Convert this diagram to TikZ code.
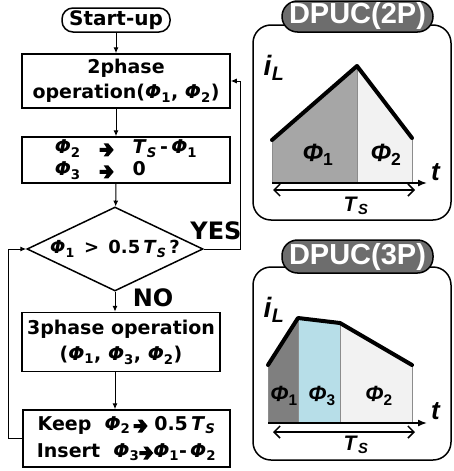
\documentclass[tikz,border=0pt]{standalone}
\usepackage{fontspec}
\setmainfont{DejaVu Sans}
\newfontfamily\libfont{Liberation Sans}
\usetikzlibrary{shapes.geometric,arrows.meta}
\definecolor{phaseone}{HTML}{A6A6A6}
\definecolor{phaseonedark}{HTML}{7F7F7F}
\definecolor{phasetwo}{HTML}{F2F2F2}
\definecolor{phasethree}{HTML}{B7DEE8}
\definecolor{pillgray}{HTML}{6D6D6D}
\newcommand{\ph}[1]{\textit{Φ}\textsubscript{#1}}
\newcommand{\TS}{\textit{T}\textsubscript{\textit{S}}}
\newcommand{\rarr}{\tikz[baseline=-4pt,x=1pt,y=1pt]\fill (0,-2) -- (7,-2) -- (4,-6.5) -- (8.5,-6.5) -- (14,0) -- (8.5,6.5) -- (4,6.5) -- (7,2) -- (0,2) -- cycle;}

\begin{document}
\begin{tikzpicture}[x=1pt,y=-1pt,
	box/.style={ draw, line width=1.5pt, inner sep=0pt, align=center, font=\bfseries\fontsize{19}{25}\selectfont },
	flow/.style={ -{Latex[length=6pt,width=5pt]}, line width=1pt },
	yesno/.style={ font=\bfseries\fontsize{24}{24}\selectfont },
	panel/.style={ draw, line width=1.5pt, rounded corners=18pt },
	pill/.style={ draw, line width=1.5pt, fill=pillgray, text=white, rounded corners=15.5pt, inner sep=0pt, font=\libfont\bfseries\fontsize{29}{29}\selectfont },
	wave/.style={ line width=4pt, line cap=round, line join=round },
	edge/.style={ black!45, line width=1pt },
	phase/.style={ font=\libfont\bfseries\fontsize{25}{25}\selectfont },
	lbl/.style={ font=\libfont\bfseries\fontsize{28}{28}\selectfont }
]
\useasboundingbox (0,0) rectangle (453,471);

% flowchart
\node[box, rounded corners=11pt, minimum width=108pt, minimum height=24pt, font=\bfseries\fontsize{20}{20}\selectfont] (start) at (116,20) {Start-up};
\node[box, minimum width=208pt, minimum height=54pt] (op2) at (126,81) {2phase\\operation(\ph{1}, \ph{2})};
\node[box, minimum width=208pt, minimum height=46pt, align=left, font=\bfseries\fontsize{19}{22}\selectfont] (set2) at (126,160) {\ph{2}\quad\rarr\quad\TS\,-\,\ph{1}\\\ph{3}\quad\rarr\quad 0};
\node[box, diamond, shape aspect=2.1, minimum width=176pt, minimum height=84pt, font=\bfseries\fontsize{18}{18}\selectfont] (chk) at (115,249) {\ph{1} \,>\, 0.5\,\TS\,?};
\node[box, minimum width=198pt, minimum height=59pt, font=\bfseries\fontsize{19}{26}\selectfont] (op3) at (121,342) {3phase operation\\(\ph{1}, \ph{3}, \ph{2})};
\node[box, minimum width=207pt, minimum height=57pt, font=\bfseries\fontsize{19}{27}\selectfont] (keep) at (126.5,438.5) {Keep\ \ \ph{2}\,\rarr\ 0.5\,\TS\\Insert\ \ \ph{3}\rarr\ph{1}-\,\ph{2}};
\node[yesno] (yes) at (216,231) {YES};
\node[yesno] (no) at (153,298) {NO};

\draw[flow] (start) -- (start |- op2.north);
\draw[flow] (start |- op2.south) -- (start |- set2.north);
\draw[flow] (start |- set2.south) -- (chk);
\draw[flow] (chk) -- (chk |- op3.north);
\draw[flow] (chk |- op3.south) -- (chk |- keep.north);
\draw[flow] (chk.east) -- ++(37,0) |- (op2.east);
\draw[flow] (keep.west) -- ++(-14,0) |- (chk.west);

% DPUC(2P)
\draw[panel] (253,25) rectangle (451,220);
\node[pill, minimum width=151pt, minimum height=31pt] (t2p) at (357.5,16.5) {DPUC(2P)};
\fill[phaseone] (272,183) -- (272,140) -- (357,66) -- (357,183) -- cycle;
\fill[phasetwo] (357,183) -- (357,66) -- (412,138) -- (412,183) -- cycle;
\draw[edge] (272,140) -- (272,183) (357,66) -- (357,183) (412,138) -- (412,183);
\draw[wave] (272,140) -- (357,66) -- (412,138);
\draw[-{Latex[length=9pt,width=7pt]}, line width=1.5pt] (272,183) -- (427,183);
\draw[{Straight Barb[length=6pt]}-{Straight Barb[length=6pt]}, line width=1.5pt] (273,190) -- (415,190);
\node[lbl] (il2) at (274,68) {\textit{i}\textsubscript{\textit{L}}};
\node[lbl, font=\libfont\bfseries\fontsize{26}{26}\selectfont] (t2) at (436,172) {\textit{t}};
\node[lbl, font=\libfont\bfseries\fontsize{21}{21}\selectfont] (ts2) at (356,206) {\TS};
\node[phase] at (318,155) {\ph{1}};
\node[phase] at (386,155) {\ph{2}};

% DPUC(3P)
\draw[panel] (253,267) rectangle (451,460);
\node[pill, minimum width=151pt, minimum height=33pt] (t3p) at (357.5,256.5) {DPUC(3P)};
\fill[phaseonedark] (268,423) -- (268,365) -- (298,318) -- (298,423) -- cycle;
\fill[phasethree] (298,423) -- (298,318) -- (340,323) -- (340,423) -- cycle;
\fill[phasetwo] (340,423) -- (340,323) -- (412,365) -- (412,423) -- cycle;
\draw[edge] (268,365) -- (268,423) (298,318) -- (298,423) (340,323) -- (340,423) (412,365) -- (412,423);
\draw[wave] (268,365) -- (298,318) -- (340,323) -- (412,365);
\draw[-{Latex[length=9pt,width=7pt]}, line width=1.5pt] (268,423) -- (427,423);
\draw[{Straight Barb[length=6pt]}-{Straight Barb[length=6pt]}, line width=1.5pt] (273,432) -- (415,432);
\node[lbl] (il3) at (274,310) {\textit{i}\textsubscript{\textit{L}}};
\node[lbl, font=\libfont\bfseries\fontsize{26}{26}\selectfont] (t3) at (436,411) {\textit{t}};
\node[lbl, font=\libfont\bfseries\fontsize{21}{21}\selectfont] (ts3) at (356,445) {\TS};
\node[phase, font=\libfont\bfseries\fontsize{22}{22}\selectfont] at (284,396) {\ph{1}};
\node[phase, font=\libfont\bfseries\fontsize{22}{22}\selectfont] at (322,396) {\ph{3}};
\node[phase, font=\libfont\bfseries\fontsize{22}{22}\selectfont] at (379,396) {\ph{2}};

\end{tikzpicture}
\end{document}
